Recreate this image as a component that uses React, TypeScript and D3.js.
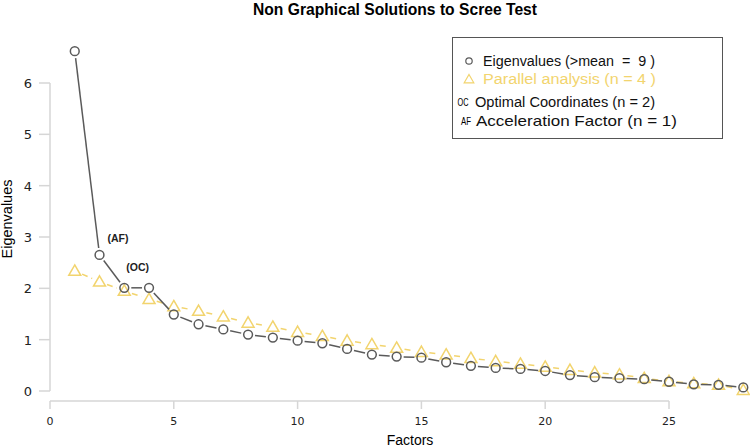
import React, { useEffect, useRef } from 'react';
import * as d3 from 'd3';

const factors = [1, 2, 3, 4, 5, 6, 7, 8, 9, 10, 11, 12, 13, 14, 15, 16, 17, 18, 19, 20, 21, 22, 23, 24, 25, 26, 27, 28];
const eigenvalues = [6.62, 2.65, 2.01, 2.01, 1.49, 1.3, 1.2, 1.1, 1.04, 0.98, 0.93, 0.82, 0.71, 0.67, 0.65, 0.56, 0.49, 0.45, 0.43, 0.39, 0.31, 0.27, 0.25, 0.23, 0.18, 0.13, 0.12, 0.07];
const parallel = [2.34, 2.13, 1.95, 1.79, 1.65, 1.56, 1.45, 1.33, 1.25, 1.15, 1.07, 0.98, 0.91, 0.84, 0.76, 0.71, 0.64, 0.58, 0.53, 0.47, 0.41, 0.36, 0.32, 0.25, 0.19, 0.15, 0.12, 0.02];
const xTicks = [0, 5, 10, 15, 20, 25];
const yTicks = [0, 1, 2, 3, 4, 5, 6];
const legendItems = ['Eigenvalues (>mean  =  9 )', 'Parallel analysis (n = 4 )', 'Optimal Coordinates (n = 2)', 'Acceleration Factor (n = 1)'];

const W = 750;
const H = 448;
const EIG = '#5a5a5a';
const PAR = '#f2d46e';
const AXIS = '#d6d6d6';

export default function App() {
  const svgRef = useRef<SVGSVGElement>(null);

  useEffect(() => {
    const svg = d3.select(svgRef.current);
    svg.selectAll('*').remove();

    const x = d3.scaleLinear().domain([0, 25]).range([50, 669]);
    const y = d3.scaleLinear().domain([0, 6]).range([391, 83]);

    // title
    svg.append('text')
      .attr('x', 395).attr('y', 15)
      .attr('text-anchor', 'middle')
      .attr('font-family', 'Liberation Sans, Arial, sans-serif')
      .attr('font-weight', 'bold')
      .attr('font-size', 17)
      .attr('textLength', 284)
      .attr('lengthAdjust', 'spacingAndGlyphs')
      .text('Non Graphical Solutions to Scree Test');

    // y axis
    const gy = svg.append('g');
    gy.append('line')
      .attr('x1', 50).attr('x2', 50)
      .attr('y1', y(0)).attr('y2', y(6))
      .attr('stroke', AXIS).attr('stroke-width', 1.5);
    gy.selectAll('line.tick').data(yTicks).join('line')
      .attr('class', 'tick')
      .attr('x1', 39).attr('x2', 50)
      .attr('y1', d => y(d)).attr('y2', d => y(d))
      .attr('stroke', AXIS).attr('stroke-width', 1.5);
    gy.selectAll('text').data(yTicks).join('text')
      .attr('x', 32).attr('y', d => y(d) + 5)
      .attr('text-anchor', 'end')
      .attr('font-family', 'DejaVu Sans, Verdana, sans-serif')
      .attr('font-size', 13)
      .attr('fill', '#222')
      .text(d => d);

    // x axis
    const gx = svg.append('g');
    gx.append('line')
      .attr('x1', x(0)).attr('x2', x(25))
      .attr('y1', 401).attr('y2', 401)
      .attr('stroke', AXIS).attr('stroke-width', 1.5);
    gx.selectAll('line.tick').data(xTicks).join('line')
      .attr('class', 'tick')
      .attr('x1', d => x(d)).attr('x2', d => x(d))
      .attr('y1', 401).attr('y2', 409)
      .attr('stroke', AXIS).attr('stroke-width', 1.5);
    gx.selectAll('text').data(xTicks).join('text')
      .attr('x', d => x(d)).attr('y', 425)
      .attr('text-anchor', 'middle')
      .attr('font-family', 'DejaVu Sans, Verdana, sans-serif')
      .attr('font-size', 11)
      .attr('fill', '#222')
      .text(d => d);

    // axis titles
    svg.append('text')
      .attr('x', 410).attr('y', 445)
      .attr('text-anchor', 'middle')
      .attr('font-family', 'Liberation Sans, Arial, sans-serif')
      .attr('font-size', 14)
      .text('Factors');
    svg.append('text')
      .attr('transform', 'translate(12,219) rotate(-90)')
      .attr('text-anchor', 'middle')
      .attr('font-family', 'Liberation Sans, Arial, sans-serif')
      .attr('font-size', 14.5)
      .text('Eigenvalues');

    // lines with gaps around points (type = "b")
    const gapped = (vals: number[], gap: number) => {
      const segs: [number, number, number, number][] = [];
      for (let i = 0; i < vals.length - 1; i++) {
        const x1 = x(factors[i]), y1 = y(vals[i]);
        const x2 = x(factors[i + 1]), y2 = y(vals[i + 1]);
        const len = Math.hypot(x2 - x1, y2 - y1);
        if (len <= 2 * gap) continue;
        const ux = (x2 - x1) / len, uy = (y2 - y1) / len;
        segs.push([x1 + ux * gap, y1 + uy * gap, x2 - ux * gap, y2 - uy * gap]);
      }
      return segs;
    };

    svg.append('g').selectAll('line').data(gapped(parallel, 8)).join('line')
      .attr('x1', d => d[0]).attr('y1', d => d[1])
      .attr('x2', d => d[2]).attr('y2', d => d[3])
      .attr('stroke', PAR).attr('stroke-width', 1.5)
      .attr('stroke-dasharray', '6,4');

    const tri = d3.symbol(d3.symbolTriangle, 62);
    svg.append('g').selectAll('path').data(parallel).join('path')
      .attr('transform', (d, i) => `translate(${x(factors[i])},${y(d) + 1})`)
      .attr('d', tri())
      .attr('fill', 'none')
      .attr('stroke', PAR).attr('stroke-width', 1.5);

    svg.append('g').selectAll('line').data(gapped(eigenvalues, 7)).join('line')
      .attr('x1', d => d[0]).attr('y1', d => d[1])
      .attr('x2', d => d[2]).attr('y2', d => d[3])
      .attr('stroke', EIG).attr('stroke-width', 1.5);

    svg.append('g').selectAll('circle').data(eigenvalues).join('circle')
      .attr('cx', (d, i) => x(factors[i]))
      .attr('cy', d => y(d))
      .attr('r', 4.4)
      .attr('fill', 'none')
      .attr('stroke', EIG).attr('stroke-width', 1.5);

    // AF / OC annotations
    const ann = svg.append('g')
      .attr('font-family', 'Liberation Sans, Arial, sans-serif')
      .attr('font-size', 10.5)
      .attr('font-weight', 'bold')
      .attr('fill', '#222');
    ann.append('text')
      .attr('x', x(factors[1]) + 8).attr('y', y(eigenvalues[1]) - 13)
      .text('(AF)');
    ann.append('text')
      .attr('x', x(factors[2]) + 2).attr('y', y(eigenvalues[2]) - 17)
      .text('(OC)');

    // legend
    const lg = svg.append('g');
    lg.append('rect')
      .attr('x', 452.5).attr('y', 37.5)
      .attr('width', 270).attr('height', 101)
      .attr('fill', 'white')
      .attr('stroke', '#555').attr('stroke-width', 1);
    lg.append('circle')
      .attr('cx', 469).attr('cy', 61).attr('r', 3.2)
      .attr('fill', 'none').attr('stroke', EIG).attr('stroke-width', 1.2);
    lg.append('path')
      .attr('transform', 'translate(469,80)')
      .attr('d', d3.symbol(d3.symbolTriangle, 40)())
      .attr('fill', 'none').attr('stroke', PAR).attr('stroke-width', 1.2);
    lg.append('text')
      .attr('x', 463).attr('y', 106)
      .attr('text-anchor', 'middle')
      .attr('font-family', 'Liberation Sans, Arial, sans-serif')
      .attr('font-size', 11)
      .attr('textLength', 11)
      .attr('lengthAdjust', 'spacingAndGlyphs')
      .text('OC');
    lg.append('text')
      .attr('x', 466).attr('y', 125)
      .attr('text-anchor', 'middle')
      .attr('font-family', 'Liberation Sans, Arial, sans-serif')
      .attr('font-size', 10)
      .attr('textLength', 10)
      .attr('lengthAdjust', 'spacingAndGlyphs')
      .text('AF');

    const rows = [
      { x0: 483, yb: 66, fill: '#111', len: 172, size: 14 },
      { x0: 483, yb: 84, fill: PAR, len: 173, size: 14 },
      { x0: 475, yb: 107, fill: '#111', len: 180, size: 14 },
      { x0: 476, yb: 126, fill: '#111', len: 201, size: 15 },
    ];
    lg.selectAll('text.item').data(legendItems).join('text')
      .attr('class', 'item')
      .attr('x', (d, i) => rows[i].x0)
      .attr('y', (d, i) => rows[i].yb)
      .attr('fill', (d, i) => rows[i].fill)
      .attr('font-family', 'Liberation Sans, Arial, sans-serif')
      .attr('font-size', (d, i) => rows[i].size)
      .attr('textLength', (d, i) => rows[i].len)
      .attr('lengthAdjust', 'spacingAndGlyphs')
      .style('white-space', 'pre')
      .text(d => d);
  }, []);

  return (
    <div style={{ position: 'absolute', left: 0, top: 0 }}>
      <svg ref={svgRef} width={W} height={H} style={{ display: 'block', background: 'white' }} />
    </div>
  );
}
